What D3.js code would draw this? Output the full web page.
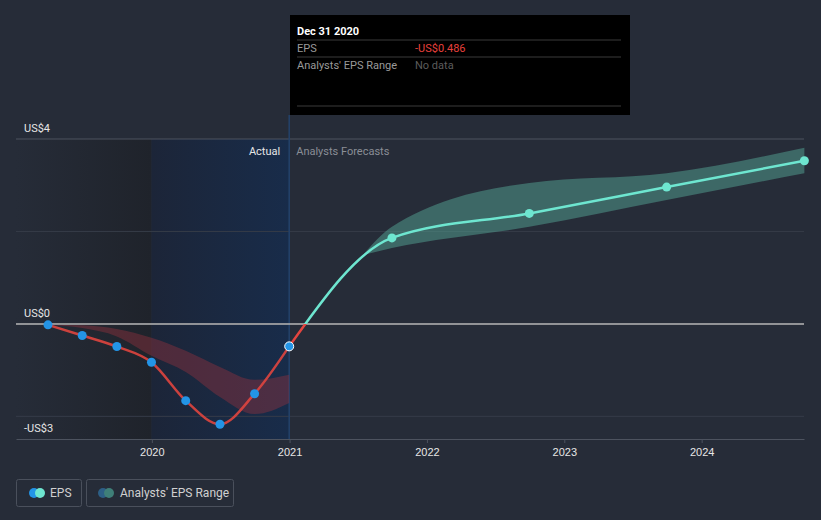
<!doctype html>
<html>
<head>
<meta charset="utf-8">
<title>EPS history and analyst forecasts</title>
<style>
  body { margin: 0; background: #262c38; }
  svg { display: block; font-family: Roboto, "Noto Sans", sans-serif; }
</style>
</head>
<body>
<svg width="821" height="520"></svg>
<script src="https://d3js.org/d3.v7.min.js"></script>
<script>
// reported EPS (trailing twelve months), quarterly
var actualDates = ["2019-03-31", "2019-06-30", "2019-09-30", "2019-12-31",
                   "2020-03-31", "2020-06-30", "2020-09-30", "2020-12-31"];
var actualEps = [-0.02, -0.25, -0.49, -0.83, -1.66, -2.17, -1.51, -0.486];
// past analyst range
var pastLow  = [-0.02, -0.09, -0.27, -0.69, -1.04, -1.58, -1.95, -1.71];
var pastHigh = [-0.02, -0.03, -0.11, -0.30, -0.58, -0.93, -1.21, -1.10];

// analyst forecasts
var forecastDates = ["2021-09-30", "2022-09-30", "2023-09-30", "2024-09-30"];
var forecastEps = [1.86, 2.39, 2.96, 3.53];
var rangeDates = ["2021-07-15", "2021-09-30", "2022-09-30", "2023-09-30", "2024-09-30"];
var rangeLow  = [1.49, 1.64, 2.10, 2.68, 3.26];
var rangeHigh = [1.49, 2.10, 3.05, 3.26, 3.81];

var yearTicks = [2020, 2021, 2022, 2023, 2024];
var gridValues = [4, 2, 0, -2];
var yLabels = [[4, "US$4"], [0, "US$0"], [-2.49, "-US$3"]];

var parse = d3.timeParse("%Y-%m-%d");
var svg = d3.select("svg");

var x = d3.scaleTime()
    .domain([parse("2019-01-05"), parse("2024-09-29")])
    .range([16, 804]);
var y = d3.scaleLinear()
    .domain([-2.49, 4])
    .range([439, 139]);

var actual = actualDates.map(function(d, i) {
  return { date: parse(d), v: actualEps[i], lo: pastLow[i], hi: pastHigh[i] };
});
var forecast = forecastDates.map(function(d, i) { return { date: parse(d), v: forecastEps[i] }; });
var range = rangeDates.map(function(d, i) { return { date: parse(d), lo: rangeLow[i], hi: rangeHigh[i] }; });

var defs = svg.append("defs");
var g1 = defs.append("linearGradient").attr("id", "shadeDark");
g1.append("stop").attr("offset", "0%").attr("stop-color", "#262c38");
g1.append("stop").attr("offset", "100%").attr("stop-color", "#1f232b");
var g2 = defs.append("linearGradient").attr("id", "shadeBlue");
g2.append("stop").attr("offset", "0%").attr("stop-color", "#1c2538");
g2.append("stop").attr("offset", "100%").attr("stop-color", "#182c4a");

var lastActual = actual[actual.length - 1].date;
var startActual = parse("2019-12-31");

svg.append("rect")
    .attr("x", x.range()[0]).attr("y", y(4))
    .attr("width", x(startActual) - x.range()[0]).attr("height", y(-2.49) - y(4))
    .attr("fill", "url(#shadeDark)");
svg.append("rect")
    .attr("x", x(startActual)).attr("y", y(4))
    .attr("width", x(lastActual) - x(startActual)).attr("height", y(-2.49) - y(4))
    .attr("fill", "url(#shadeBlue)");

// grid
svg.selectAll(".grid")
  .data(gridValues)
  .enter().append("line")
    .attr("x1", 16).attr("x2", 804)
    .attr("y1", function(d) { return y(d); })
    .attr("y2", function(d) { return y(d); })
    .attr("stroke", function(d) { return d === 4 ? "#4d535f" : "#363c48"; })
    .attr("stroke-width", 1);

// x axis
var xAxis = d3.axisBottom(x)
    .tickValues(yearTicks.map(function(yr) { return new Date(yr, 0, 1); }))
    .tickFormat(d3.timeFormat("%Y"))
    .tickSize(4)
    .tickSizeOuter(0);
var ax = svg.append("g")
    .attr("transform", "translate(0," + y(-2.49) + ")")
    .call(xAxis);
ax.select(".domain").attr("stroke", "#4d535f");
ax.selectAll(".tick line").attr("stroke", "#4d535f");
ax.selectAll(".tick text").attr("fill", "#e6e6e6").attr("font-size", 11).attr("dy", "0.9em");

// crosshair
svg.append("line")
    .attr("x1", x(lastActual)).attr("x2", x(lastActual))
    .attr("y1", 115).attr("y2", y(-2.49))
    .attr("stroke", "#24426b").attr("stroke-width", 1.5);

// zero line
svg.append("line")
    .attr("x1", 16).attr("x2", 804)
    .attr("y1", y(0)).attr("y2", y(0))
    .attr("stroke", "#b4b4b4").attr("stroke-width", 1.5);

// y labels
svg.selectAll(".ylab")
  .data(yLabels)
  .enter().append("text")
    .attr("x", 24)
    .attr("y", function(d) { return y(d[0]) - 7; })
    .attr("fill", "#e6e6e6")
    .attr("font-size", 11)
    .text(function(d) { return d[1]; });

svg.append("text")
    .attr("x", x(lastActual) - 9).attr("y", 155)
    .attr("text-anchor", "end")
    .attr("fill", "#e6e6e6").attr("font-size", 11)
    .text("Actual");
svg.append("text")
    .attr("x", x(lastActual) + 7).attr("y", 155)
    .attr("fill", "#8a8e96").attr("font-size", 11)
    .text("Analysts Forecasts");

// ranges
var area = d3.area()
    .curve(d3.curveMonotoneX)
    .x(function(d) { return x(d.date); })
    .y0(function(d) { return y(d.lo); })
    .y1(function(d) { return y(d.hi); });

svg.append("path")
    .datum(actual)
    .attr("d", area)
    .attr("fill", "rgba(150,50,62,0.42)");
svg.append("path")
    .datum(range)
    .attr("d", area)
    .attr("fill", "rgba(84,164,148,0.5)");

// eps line, red below zero and teal above
var line = d3.line()
    .curve(d3.curveMonotoneX)
    .x(function(d) { return x(d.date); })
    .y(function(d) { return y(d.v); });

defs.append("clipPath").attr("id", "above")
  .append("rect").attr("x", 0).attr("y", 0).attr("width", 821).attr("height", y(0));
defs.append("clipPath").attr("id", "below")
  .append("rect").attr("x", 0).attr("y", y(0)).attr("width", 821).attr("height", 520 - y(0));

svg.append("path")
    .datum(actual)
    .attr("d", line)
    .attr("fill", "none")
    .attr("stroke", "#e4453f")
    .attr("stroke-opacity", 0.88)
    .attr("stroke-width", 2.5);

var fc = [actual[actual.length - 1]].concat(forecast);
svg.append("path")
    .datum(fc)
    .attr("d", line)
    .attr("clip-path", "url(#below)")
    .attr("fill", "none")
    .attr("stroke", "#e4453f")
    .attr("stroke-width", 2.5);
svg.append("path")
    .datum(fc)
    .attr("d", line)
    .attr("clip-path", "url(#above)")
    .attr("fill", "none")
    .attr("stroke", "#6ee6d0")
    .attr("stroke-width", 2.5);

svg.selectAll(".adot")
  .data(actual)
  .enter().append("circle")
    .attr("cx", function(d) { return x(d.date); })
    .attr("cy", function(d) { return y(d.v); })
    .attr("r", 4.5)
    .attr("fill", "#2394e6")
    .attr("stroke", function(d, i) { return i === actual.length - 1 ? "#ffffff" : "none"; })
    .attr("stroke-width", 1);

svg.selectAll(".fdot")
  .data(forecast)
  .enter().append("circle")
    .attr("cx", function(d) { return x(d.date); })
    .attr("cy", function(d) { return y(d.v); })
    .attr("r", 4.5)
    .attr("fill", "#6ee6d0");

// tooltip
var tip = svg.append("g").attr("transform", "translate(290,15)");
tip.append("rect").attr("width", 340).attr("height", 100).attr("fill", "#000");
[25, 42, 91].forEach(function(yy) {
  tip.append("line").attr("x1", 7).attr("x2", 331).attr("y1", yy).attr("y2", yy)
    .attr("stroke", "#3a3a3a").attr("stroke-width", 1);
});
tip.append("text").attr("x", 7).attr("y", 20).attr("fill", "#fff")
    .attr("font-size", 11).attr("font-weight", "bold").text("Dec 31 2020");
tip.append("text").attr("x", 7).attr("y", 37).attr("fill", "#9a9a9a")
    .attr("font-size", 11).text("EPS");
tip.append("text").attr("x", 125).attr("y", 37).attr("fill", "#e8413c")
    .attr("font-size", 11).text("-US$" + Math.abs(actualEps[actualEps.length - 1]).toFixed(3));
tip.append("text").attr("x", 7).attr("y", 54).attr("fill", "#9a9a9a")
    .attr("font-size", 11).text("Analysts' EPS Range");
tip.append("text").attr("x", 125).attr("y", 54).attr("fill", "#5c5c5c")
    .attr("font-size", 11).text("No data");

// legend
var legend = svg.append("g");
legend.append("rect").attr("x", 16.5).attr("y", 479.5).attr("width", 65).attr("height", 27)
    .attr("rx", 2).attr("fill", "none").attr("stroke", "#4a505c");
legend.append("circle").attr("cx", 34).attr("cy", 493).attr("r", 5).attr("fill", "#2394e6");
legend.append("circle").attr("cx", 40).attr("cy", 493).attr("r", 5).attr("fill", "#6ee6d0");
legend.append("text").attr("x", 50).attr("y", 497).attr("fill", "#d0d0d0")
    .attr("font-size", 12).text("EPS");
legend.append("rect").attr("x", 86.5).attr("y", 479.5).attr("width", 147).attr("height", 27)
    .attr("rx", 2).attr("fill", "none").attr("stroke", "#4a505c");
legend.append("circle").attr("cx", 103).attr("cy", 493).attr("r", 5).attr("fill", "#2d5f86");
legend.append("circle").attr("cx", 109).attr("cy", 493).attr("r", 5).attr("fill", "#3f7f78");
legend.append("text").attr("x", 120).attr("y", 497).attr("fill", "#d0d0d0")
    .attr("font-size", 12).text("Analysts' EPS Range");
</script>
</body>
</html>
